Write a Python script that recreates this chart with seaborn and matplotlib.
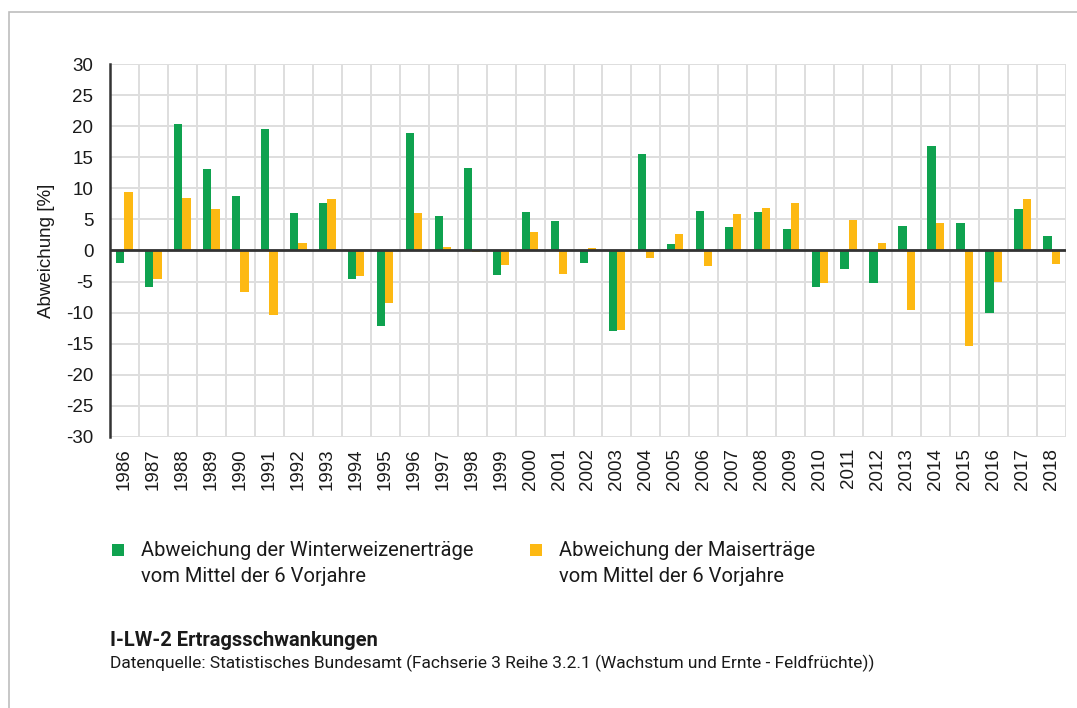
import seaborn as sns
import matplotlib.pyplot as plt
import matplotlib.patches as mpatches
from matplotlib.legend_handler import HandlerPatch
import pandas as pd

# Daten
jahre = [str(j) for j in range(1986, 2019)]
weizen = [-2.0, -5.9, 20.4, 13.1, 8.8, 19.6, 6.0, 7.7, -4.6, -12.2,
          18.9, 5.5, 13.3, -4.0, 6.2, 4.7, -2.0, -13.0, 15.5, 1.0,
          6.4, 3.8, 6.2, 3.4, -5.9, -2.9, -5.3, 4.0, 16.8, 4.5,
          -10.0, 6.6, 2.3]
mais = [9.4, -4.6, 8.5, 6.6, -6.6, -10.4, 1.2, 8.3, -4.1, -8.5,
        6.0, 0.6, -0.3, -2.3, 3.0, -3.8, 0.4, -12.8, -1.2, 2.7,
        -2.5, 5.8, 6.8, 7.7, -5.3, 4.9, 1.2, -9.6, 4.5, -15.4,
        -5.1, 8.3, -2.2]
label_weizen = "Abweichung der Winterweizenerträge\nvom Mittel der 6 Vorjahre"
label_mais = "Abweichung der Maiserträge\nvom Mittel der 6 Vorjahre"

df = pd.DataFrame({
    'Jahr': jahre * 2,
    'Wert': weizen + mais,
    'Reihe': [label_weizen] * len(jahre) + [label_mais] * len(jahre),
})

sns.set_style('white')
plt.rcParams['font.family'] = ['Liberation Sans', 'DejaVu Sans']
plt.rcParams['axes.unicode_minus'] = False
narrow = ['Roboto', 'DejaVu Sans']

fig = plt.figure(figsize=(10.77, 7.08), dpi=100)
ax = fig.add_axes([0.1021, 0.3828, 0.8877, 0.5268])

farben = {label_weizen: '#0fa24f', label_mais: '#fdb913'}
sns.barplot(data=df, x='Jahr', y='Wert', hue='Reihe', palette=farben,
            width=0.57, ax=ax, legend=True, linewidth=0, saturation=1)

ax.set_ylim(-30, 30)
ax.set_yticks(range(-30, 31, 5))
ax.set_xlim(-0.5, len(jahre) - 0.5)
ax.set_xticks(range(len(jahre)))
ax.set_xticklabels(jahre, rotation=90)
ax.set_xticks([i + 0.5 for i in range(-1, len(jahre))], minor=True)
ax.grid(False)
ax.grid(axis='y', which='major', color='#dedede', linewidth=1.4, zorder=0)
ax.grid(axis='x', which='minor', color='#dedede', linewidth=1.4, zorder=0)
ax.set_axisbelow(True)
ax.tick_params(axis='both', which='both', length=0, labelsize=13.5, colors='#1a1a1a')
ax.tick_params(axis='y', pad=12)
ax.tick_params(axis='x', pad=8)
for s in ['top', 'right', 'bottom']:
    ax.spines[s].set_visible(False)
ax.spines['left'].set_color('#333333')
ax.spines['left'].set_linewidth(1.8)
ax.axhline(0, color='#333333', linewidth=2, zorder=3)

ax.set_xlabel('')
ax.set_ylabel('Abweichung [%]', fontsize=13.5, color='#1a1a1a', labelpad=8)


# Legendensymbol auf Höhe der ersten Zeile
def oben_quadrat(legend, orig_handle, xdescent, ydescent, width, height, fontsize):
    s = 0.6 * fontsize
    return mpatches.Rectangle((-xdescent, -ydescent + height - s + 0.65 * fontsize), s, s)


handles, labels = ax.get_legend_handles_labels()
ax.get_legend().remove()
leg = fig.legend(handles, labels, loc='upper left', bbox_to_anchor=(0.104, 0.236),
                 ncol=2, frameon=False, handlelength=0.6, handleheight=0.6,
                 handletextpad=0.85, columnspacing=2.8,
                 prop={'family': narrow, 'size': 14.5}, labelcolor='#1a1a1a',
                 borderaxespad=0, borderpad=0,
                 handler_map={mpatches.Rectangle: HandlerPatch(patch_func=oben_quadrat)})
for t in leg.get_texts():
    t.set_linespacing(1.45)

fig.text(0.102, 0.088, 'I-LW-2 Ertragsschwankungen', fontsize=14.5,
         fontweight='bold', family=narrow, color='#1a1a1a')
fig.text(0.102, 0.056,
         'Datenquelle: Statistisches Bundesamt (Fachserie 3 Reihe 3.2.1 (Wachstum und Ernte - Feldfrüchte))',
         fontsize=12.5, family=narrow, color='#1a1a1a')

# Rahmen oben und links
fig.add_artist(mpatches.Rectangle((9 / 1077, -0.1), 1.2, 1.1 - 12 / 708,
                                  transform=fig.transFigure, fill=False,
                                  edgecolor='#bdbdbd', linewidth=1.2))

fig.savefig('out.png', dpi=100)
